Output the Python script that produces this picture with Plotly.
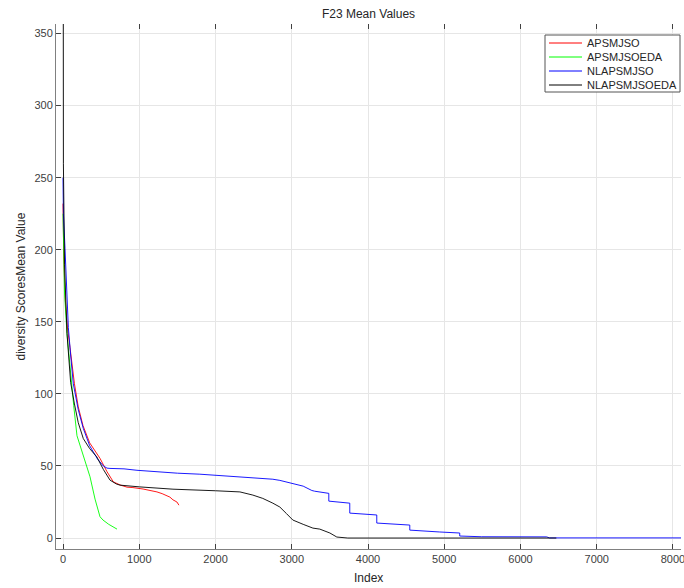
import plotly.graph_objects as go

# ---- data (index, mean value) ----
red_x = [0, 10, 30, 60, 92, 150, 200, 262, 350, 485, 577, 660, 750, 839, 917, 1050, 1232, 1300, 1402, 1442, 1494, 1520]
red_y = [232, 195, 165, 145, 132, 107, 91, 78, 66, 55.3, 46, 39, 36.8, 35.3, 35, 34, 32, 30.8, 28.4, 26.5, 25, 22.8]

green_x = [0, 5, 20, 52, 92, 140, 183, 249, 300, 354, 420, 485, 524, 600, 708]
green_y = [225, 200, 170, 142, 118, 92, 71, 60, 52, 42.5, 27, 14.8, 12.5, 9.5, 6.2]

blue_x = [0, 5, 26, 70, 100, 135, 200, 266, 350, 450, 529, 577, 616, 800, 970, 1200, 1500, 1795, 2200, 2500,
          2752, 2844, 3014, 3150, 3263, 3300, 3486, 3486, 3761, 3761, 4115, 4115, 4548, 4548, 4941, 5203, 5203,
          5491, 6343, 6380, 8105]
blue_y = [250, 225, 201, 146, 127, 107, 89, 76, 64, 55, 50, 48.5, 48.3, 48, 47, 46, 45, 44.3, 43, 42,
          40.8, 40, 38, 36, 33, 32.5, 31, 25.6, 24.2, 17.3, 16, 10.4, 9, 5.5, 4.2, 3.5, 1.4,
          0.9, 0.8, 0.1, 0.1]

black_x = [0, 5, 20, 52, 100, 122, 150, 200, 236, 266, 350, 442, 530, 616, 700, 747, 1000, 1442, 2000, 2320, 2490,
           2620, 2752, 2844, 2930, 3014, 3150, 3277, 3368, 3500, 3591, 3735, 6470]
black_y = [600, 260, 190, 142, 108, 100, 93, 80, 73, 69, 62, 56.4, 47.5, 40.2, 37.5, 36.7, 35.5, 33.9, 32.8, 32, 29.8,
           27.5, 24.2, 21.5, 17, 12.5, 9.5, 6.9, 6.2, 3.5, 0.7, 0, 0]

series_names = ["APSMJSO", "APSMJSOEDA", "NLAPSMJSO", "NLAPSMJSOEDA"]
series_colors = ["#ff0000", "#00ff00", "#0000ff", "#000000"]
xs = [red_x, green_x, blue_x, black_x]
ys = [red_y, green_y, blue_y, black_y]

x_ticks = [0, 1000, 2000, 3000, 4000, 5000, 6000, 7000, 8000]
y_ticks = [0, 50, 100, 150, 200, 250, 300, 350]
x_range = [-92, 8105]
y_range = [-7.6, 356.6]

W, H = 684, 588
ML, MR, MT, MB = 56, 3, 24, 39
PW, PH = W - ML - MR, H - MT - MB


def px_x(p):  # pixel -> paper x
    return (p - ML) / PW


def px_y(p):  # pixel -> paper y
    return (H - MB - p) / PH


fig = go.Figure()
for name, col, x, y in zip(series_names, series_colors, xs, ys):
    fig.add_trace(go.Scatter(x=x, y=y, mode="lines", name=name,
                             line=dict(color=col, width=0.9), showlegend=False))

# empty trace to carry the mirrored top ticks
fig.add_trace(go.Scatter(x=[], y=[], xaxis="x2", showlegend=False, hoverinfo="skip"))

font_family = "Liberation Sans, Arial, sans-serif"
shapes = []
annotations = []

# legend box (MATLAB-like, compact)
lx0, lx1, ly0, ly1 = 545, 680, 35, 92
shapes.append(dict(type="rect", xref="paper", yref="paper",
                   x0=px_x(lx0), x1=px_x(lx1), y0=px_y(ly1), y1=px_y(ly0),
                   line=dict(color="#555555", width=1), fillcolor="white", layer="above"))
for i, (name, col) in enumerate(zip(series_names, series_colors)):
    yy = 43 + i * 14
    shapes.append(dict(type="line", xref="paper", yref="paper",
                       x0=px_x(549), x1=px_x(582), y0=px_y(yy), y1=px_y(yy),
                       line=dict(color=col, width=1), layer="above"))
    annotations.append(dict(text=name, xref="paper", yref="paper", x=px_x(585), y=px_y(yy),
                            xanchor="left", yanchor="middle", showarrow=False,
                            font=dict(size=11, color="#262626")))

# axis titles
annotations.append(dict(text="Index", xref="paper", yref="paper", x=0.5, y=px_y(578),
                        xanchor="center", yanchor="middle", showarrow=False,
                        font=dict(size=12, color="#262626")))
annotations.append(dict(text="diversity ScoresMean Value", xref="paper", yref="paper",
                        x=px_x(20), y=0.5, xanchor="center", yanchor="middle", textangle=-90,
                        showarrow=False, font=dict(size=12, color="#262626")))

fig.update_layout(
    width=W, height=H,
    margin=dict(l=ML, r=MR, t=MT, b=MB, autoexpand=False),
    paper_bgcolor="white", plot_bgcolor="white",
    font=dict(family=font_family, size=11, color="#404040"),
    title=dict(text="F23 Mean Values", x=0.5, xref="paper", xanchor="center",
               y=1 - 14 / H, yanchor="middle", font=dict(size=12, color="#262626")),
    showlegend=False,
    shapes=shapes,
    annotations=annotations,
    xaxis=dict(range=x_range, tickvals=x_ticks, ticktext=[str(v) for v in x_ticks],
               showgrid=True, gridcolor="#e6e6e6", gridwidth=1, zeroline=False,
               showline=True, linecolor="#808080", linewidth=1, automargin=False,
               ticks="inside", ticklen=5, tickcolor="#404040", ticklabeloverflow="allow"),
    xaxis2=dict(range=x_range, overlaying="x", side="top", anchor="y", automargin=False,
                tickvals=x_ticks, showticklabels=False, showgrid=False, zeroline=False,
                showline=False, ticks="inside", ticklen=5, tickcolor="#404040"),
    yaxis=dict(range=y_range, tickvals=y_ticks, ticktext=[str(v) for v in y_ticks],
               showgrid=True, gridcolor="#e6e6e6", gridwidth=1, zeroline=False,
               showline=True, linecolor="#808080", linewidth=1, automargin=False,
               ticks="inside", ticklen=5, tickcolor="#404040"),
)

fig.write_html("out.html", config={"displayModeBar": False},
               post_script="document.body.style.margin='0px';document.body.style.overflow='hidden';")
